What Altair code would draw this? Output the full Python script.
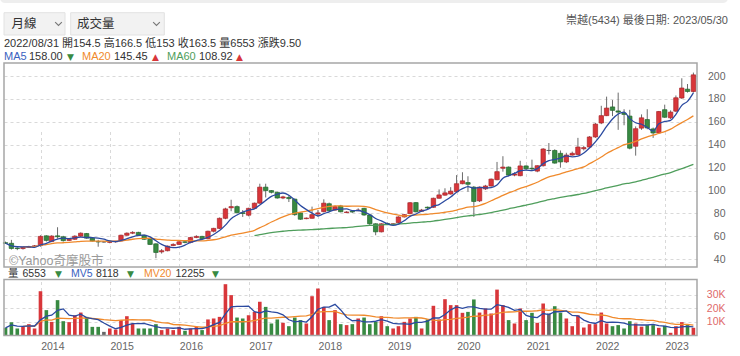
import altair as alt
import pandas as pd

# ---------------- data (monthly candles, 2013-06 .. 2023-05) ----------------
months = [f"{2013 + (5 + k) // 12}-{(5 + k) % 12 + 1:02d}" for k in range(120)]

opens = [54.5, 54.0, 49.8, 49.4, 50.5, 51.2, 52.0, 60.5, 55.5, 60.5,
         59.7, 56.5, 57.5, 60.2, 62.5, 58.5, 55.5, 55.2, 54.8, 55.3,
         56.0, 61.0, 62.8, 63.5, 61.0, 57.5, 53.5, 46.5, 47.5, 52.0,
         53.0, 55.3, 54.8, 59.0, 60.0, 58.0, 64.5, 67.0, 75.8, 85.0,
         86.0, 80.7, 78.5, 84.5, 89.0, 103.0, 100.0, 98.5, 93.5, 94.0,
         92.5, 80.5, 75.5, 75.8, 79.5, 81.6, 88.5, 83.0, 86.5, 80.8,
         81.8, 82.5, 84.5, 78.7, 71.0, 64.0, 71.3, 70.5, 72.0, 77.0,
         80.0, 89.5, 82.0, 85.5, 85.4, 93.3, 96.0, 97.0, 99.0, 106.0,
         107.0, 103.0, 91.0, 101.5, 104.0, 109.5, 119.5, 120.5, 113.5, 113.0,
         121.5, 119.5, 117.0, 121.7, 135.0, 135.0, 132.5, 125.0, 131.0, 131.5,
         136.5, 138.0, 146.8, 159.0, 165.4, 173.0, 169.5, 167.5, 165.0, 138.7,
         154.5, 162.0, 153.8, 150.3, 170.6, 163.5, 169.3, 180.8, 188.5, 186.5]
highs = [55.5, 57.0, 50.5, 51.0, 51.8, 52.5, 61.0, 61.0, 61.0, 68.0,
         60.5, 58.5, 61.0, 63.5, 63.0, 59.5, 57.0, 56.0, 56.0, 56.2,
         61.5, 63.5, 64.5, 64.0, 61.5, 58.0, 54.0, 49.0, 52.0, 54.0,
         56.0, 56.0, 59.5, 61.0, 60.5, 65.0, 67.5, 76.5, 85.0, 92.0,
         87.0, 83.0, 85.0, 89.5, 106.0, 106.0, 100.5, 99.0, 95.5, 96.0,
         93.0, 81.0, 76.5, 86.0, 83.0, 92.4, 89.5, 87.0, 87.5, 82.0,
         83.0, 84.5, 85.0, 79.0, 71.5, 71.5, 72.0, 71.5, 77.5, 79.5,
         90.0, 90.0, 84.0, 86.0, 93.8, 101.0, 102.0, 103.0, 113.5, 116.0,
         112.5, 104.0, 103.5, 105.0, 110.5, 125.0, 130.0, 121.0, 116.0, 126.0,
         122.0, 127.0, 122.0, 137.0, 141.5, 136.0, 135.0, 133.0, 134.0, 146.0,
         139.0, 147.5, 159.0, 174.0, 182.0, 179.0, 185.5, 171.0, 170.5, 156.0,
         166.5, 171.0, 155.0, 169.5, 175.0, 170.0, 183.0, 198.0, 193.0, 203.0]
lows = [53.5, 48.5, 48.0, 48.5, 50.0, 50.5, 51.0, 55.5, 55.0, 58.0,
        55.5, 56.0, 57.0, 59.5, 58.0, 55.5, 51.0, 54.5, 54.0, 54.5,
        55.5, 60.5, 62.0, 60.5, 57.0, 52.5, 41.0, 45.0, 47.0, 51.5,
        52.5, 54.0, 54.0, 58.5, 57.5, 57.5, 63.5, 66.5, 75.0, 82.0,
        80.0, 77.0, 77.5, 84.0, 88.5, 94.0, 97.5, 93.0, 92.5, 90.0,
        78.0, 74.5, 75.0, 75.5, 77.0, 81.0, 82.0, 82.5, 81.0, 80.5,
        80.5, 82.0, 78.0, 70.0, 61.0, 63.5, 70.0, 69.5, 71.5, 76.5,
        79.5, 81.0, 81.5, 83.5, 85.0, 93.0, 95.5, 96.5, 98.5, 105.5,
        99.0, 77.0, 90.0, 100.5, 103.5, 109.0, 116.5, 112.5, 112.5, 112.5,
        118.0, 117.0, 116.0, 121.0, 131.5, 123.5, 120.0, 124.0, 130.5, 131.0,
        135.0, 137.5, 146.0, 158.0, 165.0, 165.0, 153.0, 157.0, 136.0, 130.5,
        153.0, 153.5, 146.0, 149.5, 163.5, 162.5, 168.5, 180.0, 185.5, 185.5]
closes = [54.0, 49.5, 49.4, 50.5, 51.2, 51.8, 60.0, 56.5, 60.3, 59.7,
          56.3, 57.5, 60.2, 62.8, 58.5, 56.0, 55.2, 55.2, 55.3, 55.8,
          61.0, 62.8, 63.5, 61.0, 57.5, 53.0, 46.0, 47.5, 51.5, 53.0,
          55.3, 54.8, 59.0, 60.0, 58.0, 64.5, 67.0, 75.8, 84.0, 86.0,
          80.7, 80.0, 84.5, 89.0, 103.0, 100.0, 98.5, 93.5, 94.5, 93.0,
          79.0, 75.0, 76.0, 79.0, 80.5, 89.0, 82.5, 86.0, 81.5, 81.3,
          81.3, 83.0, 78.7, 71.0, 64.0, 71.0, 70.8, 71.0, 77.0, 79.0,
          89.4, 81.5, 83.0, 84.8, 93.3, 96.2, 98.0, 99.5, 106.0, 108.5,
          105.5, 90.5, 103.0, 104.0, 110.0, 116.5, 120.5, 113.5, 114.5, 121.5,
          119.0, 119.0, 121.7, 136.3, 135.0, 124.0, 125.0, 131.0, 132.5, 138.0,
          137.5, 146.8, 158.0, 165.4, 172.0, 170.0, 168.5, 166.5, 137.0, 154.0,
          163.5, 154.7, 150.3, 169.0, 164.0, 168.5, 181.0, 189.5, 186.5, 201.0]
volumes = [5700, 9900, 5200, 6400, 8400, 5200, 32800, 18800, 10100, 26200,
           10600, 9900, 15000, 17000, 13800, 6400, 6400, 2700, 5200, 4400,
           11400, 14300, 8900, 5200, 5200, 5200, 8400, 4000, 5200, 4000,
           6400, 3500, 5200, 6400, 4000, 11900, 12600, 13800, 38000, 29900,
           13300, 12600, 15000, 17500, 25000, 21200, 8900, 11900, 9400, 6900,
           13300, 11400, 8900, 29100, 34800, 21200, 11400, 18800, 8400, 7700,
           8400, 12600, 13300, 8400, 10100, 14300, 6900, 5200, 6900, 10100,
           12600, 13800, 5200, 11900, 22000, 11900, 26900, 22500, 22500, 16800,
           17500, 26700, 17000, 20000, 16300, 34000, 22500, 11400, 8900, 20000,
           11400, 16800, 9400, 23700, 16300, 21700, 16800, 12600, 6900, 15000,
           5900, 8400, 8400, 17000, 8900, 6900, 7700, 5200, 10600, 8900,
           6553, 7700, 7700, 5700, 7200, 2000, 6900, 9900, 7700, 5700]

price_ticks = [40, 60, 80, 100, 120, 140, 160, 180, 200]
volume_ticks = [10000, 20000, 30000]
year_ticks = list(range(2014, 2024))

dates = pd.PeriodIndex(months, freq="M").to_timestamp(how="end").normalize()
df = pd.DataFrame({"date": dates, "open": opens, "high": highs, "low": lows,
                   "close": closes, "volume": volumes, "idx": range(len(months))})

# ---------------- style ----------------
RED, GREEN, FLAT = "#d8363a", "#388a42", "#666666"
BLUE, ORANGE, MAGREEN = "#2b4aa0", "#f08a2c", "#4f9e5c"
FONT = "Liberation Sans, Noto Sans CJK TC"
GRID = "#d9d9d9"

W, H = 693, 272.5
P_TOP, P_BOT = 0, 204
V_TOP, V_BOT = 216.4, 272.5

x_axis = alt.Axis(values=[alt.DateTime(year=y, month=1, date=1) for y in year_ticks],
                  format="%Y", labelAlign="left", labelBaseline="top", labelPadding=6,
                  labelFontSize=10.5, labelFont=FONT, labelColor="#666", ticks=False,
                  domain=False, grid=True, gridDash=[3, 3], gridColor=GRID, title=None,
                  labelFlush=False)
x_scale = alt.Scale(domain=[alt.DateTime(year=2013, month=6, date=22),
                            alt.DateTime(year=2023, month=6, date=19)], padding=0)
X = alt.X("date:T", scale=x_scale, axis=x_axis)

p_scale = alt.Scale(domain=[33.3, 211.35], range=[P_BOT, P_TOP], nice=False, zero=False)
p_axis = alt.Axis(orient="right", values=price_ticks, grid=True, gridDash=[3, 3],
                  gridColor=GRID, ticks=False, domain=False, labelAlign="right",
                  labelPadding=28, labelColor="#666", labelFontSize=10.5, labelFont=FONT,
                  title=None)
v_scale = alt.Scale(domain=[0, 41555], range=[V_BOT, V_TOP], nice=False)
v_axis = alt.Axis(orient="right", values=volume_ticks, grid=True, gridDash=[3, 3],
                  gridColor=GRID, ticks=False, domain=False, labelAlign="right",
                  labelPadding=28, labelColor="#e06a6a", labelFontSize=10.5, labelFont=FONT,
                  labelExpr="datum.value / 1000 + 'K'", title=None)

dir_calc = "datum.close > datum.open ? 'up' : (datum.close < datum.open ? 'down' : 'flat')"
col = alt.Color("dir:N", scale=alt.Scale(domain=["up", "down", "flat"], range=[RED, GREEN, FLAT]), legend=None)
strk = alt.Stroke("dir:N", scale=alt.Scale(domain=["up", "down", "flat"], range=["#a82428", "#22662c", "#555"]), legend=None)

base = alt.Chart(df).transform_calculate(dir=dir_calc)

wicks = base.mark_rule(color="#6b6b6b", strokeWidth=1).encode(
    x=X, y=alt.Y("low:Q", scale=p_scale, axis=p_axis), y2="high:Q")
bodies = base.mark_bar(size=4.4, strokeWidth=0.7).encode(
    x=X, y=alt.Y("open:Q", scale=p_scale, axis=p_axis), y2="close:Q", color=col, stroke=strk)


def ma_line(n, start, color, field, scale, axis, interp):
    return (alt.Chart(df)
            .transform_window(m=f"mean({field})", frame=[-(n - 1), 0], sort=[alt.SortField("date")])
            .transform_filter(f"datum.idx >= {start}")
            .mark_line(color=color, strokeWidth=1.3, interpolate=interp)
            .encode(x=X, y=alt.Y("m:Q", scale=scale, axis=axis)))


price = alt.layer(
    wicks, bodies,
    ma_line(60, 43, MAGREEN, "close", p_scale, p_axis, "monotone"),
    ma_line(20, 3, ORANGE, "close", p_scale, p_axis, "monotone"),
    ma_line(5, 0, BLUE, "close", p_scale, p_axis, "monotone"),
)

vbars = base.mark_bar(size=3.6).encode(
    x=X, y=alt.Y("volume:Q", scale=v_scale, axis=v_axis, stack=None), color=col)
volume = alt.layer(
    vbars,
    ma_line(20, 3, ORANGE, "volume", v_scale, v_axis, "linear"),
    ma_line(5, 0, BLUE, "volume", v_scale, v_axis, "linear"),
)

one = pd.DataFrame({"k": [0]})


def box(x, x2, y, y2, **kw):
    return alt.Chart(one).mark_rect(**kw).encode(
        x=alt.value(x), x2=alt.value(x2), y=alt.value(y), y2=alt.value(y2))


def txt(s, x, y, color="#333", size=11, align="left", font=FONT):
    return alt.Chart(one).mark_text(text=s, align=align, baseline="middle", fontSize=size,
                                    font=font, color=color).encode(x=alt.value(x), y=alt.value(y))


def chevron(x, y):
    return alt.Chart(one).mark_point(shape="M -1 -0.5 L 0 0.5 L 1 -0.5", filled=False,
                                     size=45, strokeWidth=1.1, color="#444").encode(
        x=alt.value(x), y=alt.value(y))


TRI = "DejaVu Sans"
decor_under = [
    box(-4, 724, -70, -60, color="#eeeeee", cornerRadius=5),
    box(0, W, P_BOT, V_TOP, color="white"),
]
decor_over = [
    box(0, W, P_TOP, P_BOT, fillOpacity=0, stroke="#a6a6a6", strokeWidth=1.5),
    box(0, W, V_TOP, V_BOT, fillOpacity=0, stroke="#a6a6a6", strokeWidth=1.5),
    box(0, 61, -50.3, -28, color="#f2f2f2", stroke="#e2e2e2", strokeWidth=1),
    box(66.7, 160.3, -50.3, -28, color="#f2f2f2", stroke="#e2e2e2", strokeWidth=1),
    txt("月線", 7.5, -39.3, size=12.5),
    chevron(54.5, -39.3),
    txt("成交量", 73, -39.3, size=12.5),
    chevron(152.5, -39.3),
    txt("崇越(5434)  最後日期: 2023/05/30", 724, -42.3, color="#555", align="right"),
    txt("2022/08/31 開154.5 高166.5 低153 收163.5 量6553 漲跌9.50", 0, -18.7),
    txt("MA5", 0, -5.7, color="#3a62c0"),
    txt("158.00", 25, -5.7),
    txt("▼", 63, -5.7, color=GREEN, size=9, font=TRI),
    txt("MA20", 78, -5.7, color=ORANGE),
    txt("145.45", 110, -5.7),
    txt("▲", 148, -5.7, color=RED, size=9, font=TRI),
    txt("MA60", 163, -5.7, color=MAGREEN),
    txt("108.92", 195, -5.7),
    txt("▲", 232, -5.7, color=RED, size=9, font=TRI),
    txt("©Yahoo奇摩股市", 5, 198, color="#9a9a9a", size=12.5),
    txt("量", 4, 211.3, size=10.5),
    txt("6553", 18.5, 211.3, size=10.5),
    txt("▼", 51, 211.3, color=GREEN, size=9, font=TRI),
    txt("MV5", 67, 211.3, color="#3a62c0", size=10.5),
    txt("8118", 92, 211.3, size=10.5),
    txt("▼", 123, 211.3, color=GREEN, size=9, font=TRI),
    txt("MV20", 140, 211.3, color=ORANGE, size=10.5),
    txt("12255", 171.5, 211.3, size=10.5),
    txt("▼", 208, 211.3, color=GREEN, size=9, font=TRI),
]

chart = (alt.layer(*decor_under, price, volume, *decor_over)
         .resolve_scale(y="independent")
         .properties(width=W, height=H,
                     padding={"left": 4, "top": 63, "right": 43, "bottom": 20.5},
                     autosize=alt.AutoSizeParams(type="none"), background="white")
         .configure_view(stroke=None))

chart.save("out.html", embed_options={"renderer": "svg", "actions": False})
